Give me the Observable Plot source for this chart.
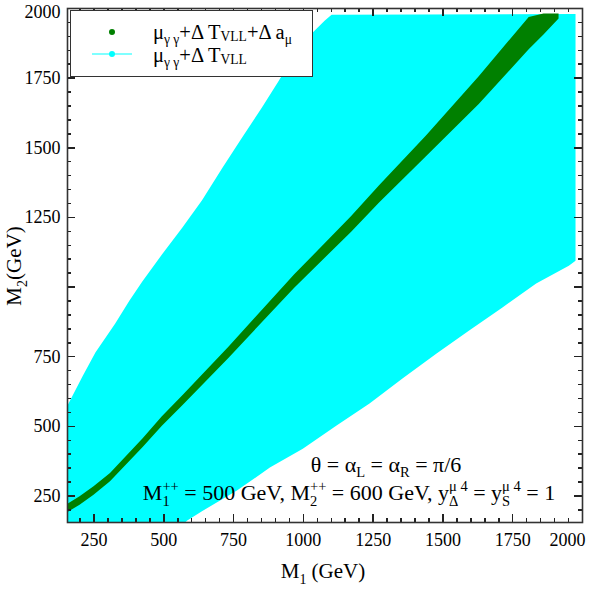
<!DOCTYPE html>
<html>
<head>
<meta charset="utf-8">
<script src="https://cdn.jsdelivr.net/npm/d3@7"></script>
<script src="https://cdn.jsdelivr.net/npm/@observablehq/plot@0.6"></script>
<style>
  html, body { margin: 0; padding: 0; background: #fff; }
</style>
</head>
<body>
<div id="chart"></div>
<script>
// ---- Data ----
// Cyan allowed region (mu_gamma gamma + Delta T_VLL), boundary polygon in (M1, M2) GeV
const cyanX = [155, 209, 255, 326, 376, 423, 494, 566, 637, 709, 780, 851, 912, 969, 1030, 1076, 1101, 1975,
               1975, 1951, 1834, 1712, 1594, 1476, 1355, 1237, 1119, 998, 880, 762, 641, 584, 576, 155];
const cyanY = [575, 680, 765, 869, 950, 1020, 1118, 1213, 1312, 1427, 1536, 1644, 1741, 1836, 1910, 1956, 1978, 1980,
               1095, 1077, 1013, 926, 844, 761, 672, 582, 503, 420, 352, 270, 198, 162, 155, 155];

// Green band (mu_gamma gamma + Delta T_VLL + Delta a_mu): M1 and lower/upper M2 edges
const greenX  = [155, 200, 250, 309, 426, 494, 569, 734, 969, 1173, 1273, 1441, 1630, 1809, 1862, 1916];
const greenLo = [190, 217, 253, 301, 424, 500, 575, 745, 996, 1197, 1302, 1468, 1655, 1852, 1905, 1962];
const greenHi = [220, 247, 283, 331, 456, 534, 611, 785, 1044, 1253, 1364, 1542, 1755, 1968, 1980, 1980];

// Axes
const domainX = [155, 2000];
const domainY = [155, 2000];
const majorTicks = [250, 500, 750, 1000, 1250, 1500, 1750, 2000];
const minorTicks = [200, 300, 350, 400, 450, 550, 600, 650, 700, 800, 850, 900, 950,
                    1050, 1100, 1150, 1200, 1300, 1350, 1400, 1450, 1550, 1600, 1650, 1700,
                    1800, 1850, 1900, 1950];
const xLabelTicks = [250, 500, 750, 1000, 1250, 1500, 1750];
const yLabelTicks = [250, 500, 750, 1250, 1500, 1750];
const edgeTick = [2000];

const FONT = "'Liberation Serif', 'Times New Roman', serif";
const cyanColor = "#00ffff";
const greenColor = "#008000";
const axisColor = "#222";

const W = 590, H = 590, ML = 67, MR = 8, MT = 8, MB = 68;
const innerW = W - ML - MR, innerH = H - MT - MB;
// data units per pixel (for inward tick lengths)
const ux = (domainX[1] - domainX[0]) / innerW;
const uy = (domainY[1] - domainY[0]) / innerH;

const cyanPoly = cyanX.map((x, i) => ({x, y: cyanY[i]}));
const greenBand = greenX.map((x, i) => ({x, lo: greenLo[i], hi: greenHi[i]}));

const fmt = d => String(d);
const tickStyle = {stroke: axisColor, strokeWidth: 1.5, shapeRendering: "crispEdges"};
const ticksX = (ticks, len) => [
  Plot.ruleX(ticks, {...tickStyle, x: d => d, y1: domainY[0], y2: domainY[0] + len * uy}),
  Plot.ruleX(ticks, {...tickStyle, x: d => d, y1: domainY[1], y2: domainY[1] - len * uy})
];
const ticksY = (ticks, len) => [
  Plot.ruleY(ticks, {...tickStyle, y: d => d, x1: domainX[0], x2: domainX[0] + len * ux}),
  Plot.ruleY(ticks, {...tickStyle, y: d => d, x1: domainX[1], x2: domainX[1] - len * ux})
];

const plot = Plot.plot({
  width: W,
  height: H,
  marginLeft: ML,
  marginRight: MR,
  marginTop: MT,
  marginBottom: MB,
  x: {domain: domainX},
  y: {domain: domainY},
  style: {fontFamily: FONT, fontSize: "18px", color: "#000", background: "#fff"},
  marks: [
    Plot.line(cyanPoly, {x: "x", y: "y", fill: cyanColor, stroke: "none", curve: "linear"}),
    Plot.areaY(greenBand, {x: "x", y1: "lo", y2: "hi", fill: greenColor, curve: "linear"}),
    ...ticksX(majorTicks, 8), ...ticksX(minorTicks, 4),
    ...ticksY(majorTicks, 8), ...ticksY(minorTicks, 4),
    // tick labels
    Plot.axisX(xLabelTicks, {anchor: "bottom", tickSize: 0, tickPadding: 11, label: null, fontSize: 18, tickFormat: fmt}),
    Plot.axisX(edgeTick, {anchor: "bottom", tickSize: 0, tickPadding: 11, label: null, fontSize: 18, dx: -15, tickFormat: fmt}),
    Plot.axisY(yLabelTicks, {anchor: "left", tickSize: 0, tickPadding: 7, label: null, fontSize: 18, tickFormat: fmt}),
    Plot.axisY(edgeTick, {anchor: "left", tickSize: 0, tickPadding: 7, label: null, fontSize: 18, dy: 4, tickFormat: fmt}),
    Plot.frame({stroke: "#333", strokeWidth: 1.6})
  ]
});

document.getElementById("chart").appendChild(plot);

// ---- rich text helper (sub/superscripts as tspans) ----
function richText(parent, x, y, segs, o) {
  const size = o.size;
  const small = size * 0.66;
  const t = parent.append("text")
    .attr("x", x).attr("y", y)
    .attr("font-family", FONT)
    .attr("font-size", size)
    .attr("fill", "#000")
    .attr("text-anchor", o.anchor || "start");
  if (o.rotate) t.attr("transform", `rotate(-90 ${x} ${y})`);
  let cur = 0, pendDx = 0;
  const add = (txt, fs, off, dx) => {
    const s = t.append("tspan").attr("font-size", fs).attr("dy", off - cur).text(txt);
    if (dx) s.attr("dx", dx);
    cur = off;
    return s;
  };
  segs.forEach(s => {
    if (typeof s === "string") {
      add(s, size, 0, pendDx); pendDx = 0;
    } else {
      let wSub = 0, wSup = 0;
      if (s.sub != null) {
        const e = add(s.sub, small, size * (s.subOff ?? 0.28), pendDx); pendDx = 0;
        wSub = e.node().getComputedTextLength();
      }
      if (s.sup != null) {
        const e = add(s.sup, small, -size * 0.40, s.sub != null ? -wSub : pendDx); pendDx = 0;
        wSup = e.node().getComputedTextLength();
        if (s.sub != null && wSub > wSup) pendDx = wSub - wSup;
      }
    }
  });
  return t;
}

const svg = d3.select(plot);
const g = svg.append("g");

// Axis titles
richText(g, 323, 578, ["M", {sub: "1"}, " (GeV)"], {size: 21, anchor: "middle"});
richText(g, 21, 266, ["M", {sub: "2"}, "(GeV)"], {size: 21, anchor: "middle", rotate: true});

// Annotations
richText(g, 386, 472, ["θ = α", {sub: "L", subOff: 0.22}, " = α", {sub: "R", subOff: 0.22}, " = π/6"], {size: 22, anchor: "middle"});
richText(g, 349, 500, ["M", {sub: "1", sup: "++"}, " = 500 GeV, M", {sub: "2", sup: "++"},
  " = 600 GeV, y", {sub: "Δ", sup: "μ 4"}, " = y", {sub: "S", sup: "μ 4"}, " = 1"],
  {size: 22, anchor: "middle"});

// Legend
const lg = g.append("g");
lg.append("rect").attr("x", 70.5).attr("y", 10.5).attr("width", 242).attr("height", 66)
  .attr("fill", "#fff").attr("stroke", "#333").attr("stroke-width", 1);
lg.append("circle").attr("cx", 112).attr("cy", 32).attr("r", 3).attr("fill", greenColor);
lg.append("line").attr("x1", 92).attr("x2", 132).attr("y1", 54).attr("y2", 54)
  .attr("stroke", cyanColor).attr("stroke-width", 1.2);
lg.append("circle").attr("cx", 112).attr("cy", 54).attr("r", 3).attr("fill", cyanColor);
richText(lg, 153, 39, ["μ", {sub: "γ γ", subOff: 0.22}, "+Δ T", {sub: "VLL", subOff: 0.12}, "+Δ a", {sub: "μ", subOff: 0.22}], {size: 20.5});
richText(lg, 153, 62, ["μ", {sub: "γ γ", subOff: 0.22}, "+Δ T", {sub: "VLL", subOff: 0.12}], {size: 20.5});
</script>
</body>
</html>
